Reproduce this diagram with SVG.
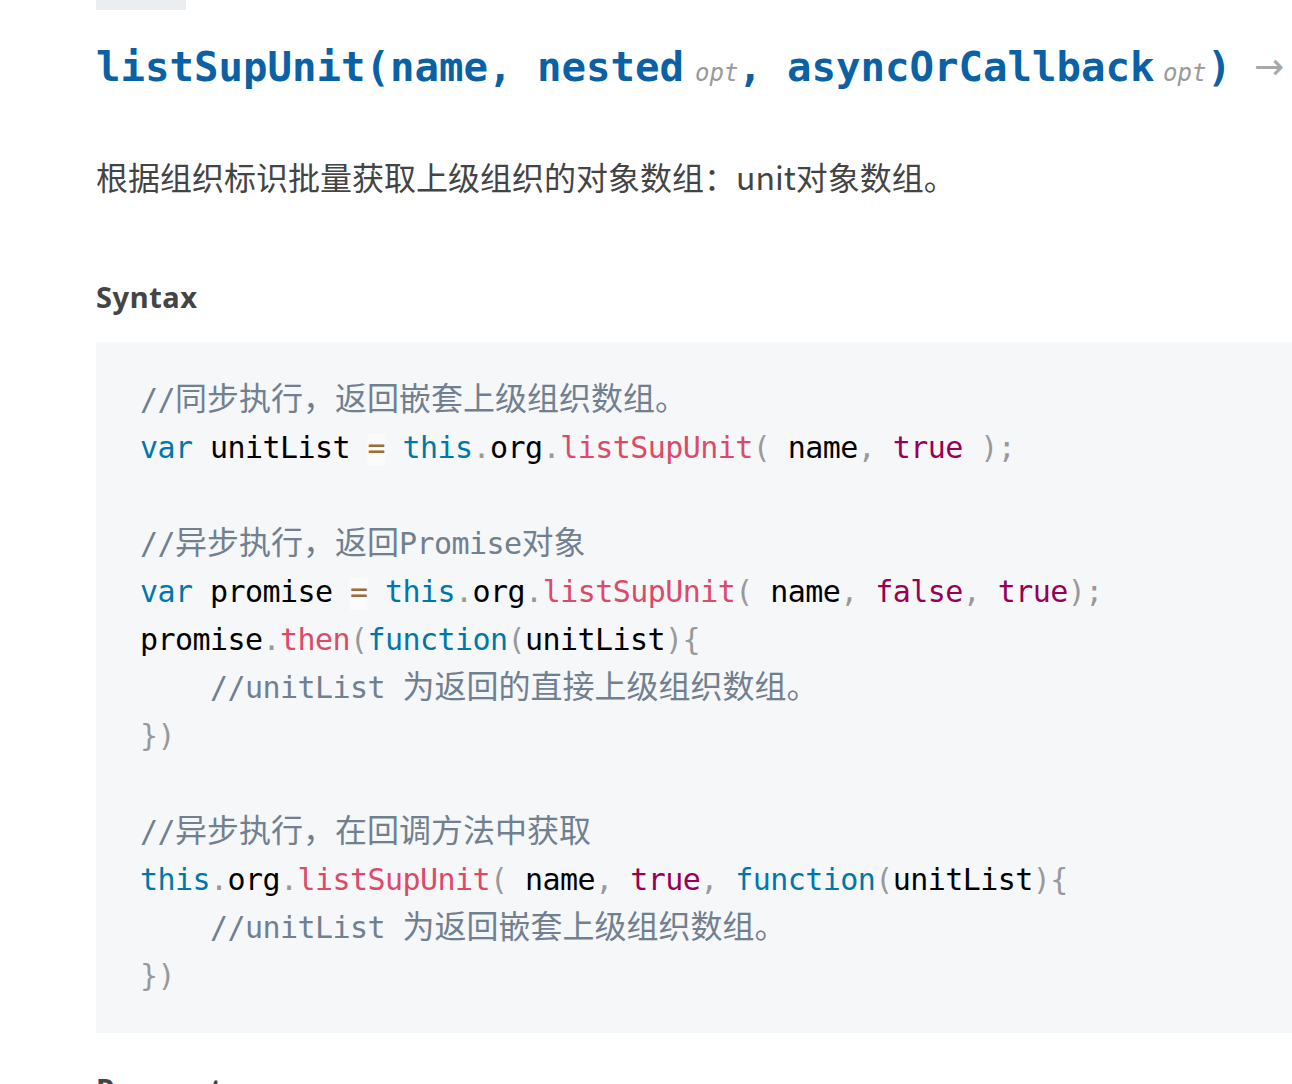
<svg xmlns="http://www.w3.org/2000/svg" width="1292" height="1084" viewBox="0 0 1292 1084">
<style>
text{white-space:pre}
.hd{font-family:"DejaVu Sans Mono","Liberation Mono",monospace;font-weight:bold;font-size:40.7px;fill:#0b61a6}
.opt{font-family:"DejaVu Sans Mono","Liberation Mono",monospace;font-style:italic;font-size:24px;fill:#9a9a9a;font-weight:normal}
.arrow{font-family:"Noto Sans","DejaVu Sans",sans-serif;font-size:36px;fill:#a8a8a8}
.desc{font-family:"Noto Sans CJK SC","Noto Sans",sans-serif;font-size:32px;fill:#444}
.h2{font-family:"Noto Sans","Liberation Sans",sans-serif;font-weight:bold;font-size:29px;letter-spacing:0.6px;fill:#444}
.code{font-family:"DejaVu Sans Mono","Liberation Mono","Noto Sans CJK SC",monospace;font-size:30px;letter-spacing:-0.56px;fill:#000}
.cjk{font-family:"Noto Sans CJK SC",sans-serif;font-size:32px;letter-spacing:0}
.k{fill:#0077aa}
.f{fill:#dd4a68}
.b{fill:#990055}
.p{fill:#999999}
.o{fill:#9a6e3a}
.c{fill:#708090}
</style>
<rect x="96" y="0" width="90" height="10" fill="#ebeef0"/>
<g id="header">
<text class="hd" x="96" y="81">listSupUnit(name, nested</text>
<text class="opt" x="695" y="81">opt</text>
<text class="hd" x="738" y="81">, asyncOrCallback</text>
<text class="opt" x="1163" y="81">opt</text>
<text class="hd" x="1207" y="81">)</text>
<text class="arrow" x="1254" y="79">→</text>
</g>
<g id="description">
<text class="desc" x="96" y="190">根据组织标识批量获取上级组织的对象数组：unit对象数组。</text>
</g>
<g id="syntax-heading">
<text class="h2" x="96" y="308">Syntax</text>
</g>
<g id="code-block">
<rect x="96" y="342" width="1196" height="691" fill="#f6f7f9"/>
<rect x="367.5" y="434" width="17.5" height="32" fill="#ffffff" fill-opacity="0.5"/>
<rect x="350" y="578" width="17.5" height="32" fill="#ffffff" fill-opacity="0.5"/>
<text class="code" x="140" y="410"><tspan class="c">//</tspan><tspan class="c cjk">同步执行，返回嵌套上级组织数组。</tspan></text>
<text class="code" x="140" y="458"><tspan class="k">var</tspan> unitList <tspan class="o">=</tspan> <tspan class="k">this</tspan><tspan class="p">.</tspan>org<tspan class="p">.</tspan><tspan class="f">listSupUnit</tspan><tspan class="p">(</tspan> name<tspan class="p">,</tspan> <tspan class="b">true</tspan> <tspan class="p">);</tspan></text>
<text class="code" x="140" y="554"><tspan class="c">//</tspan><tspan class="c cjk">异步执行，返回</tspan><tspan class="c">Promise</tspan><tspan class="c cjk">对象</tspan></text>
<text class="code" x="140" y="602"><tspan class="k">var</tspan> promise <tspan class="o">=</tspan> <tspan class="k">this</tspan><tspan class="p">.</tspan>org<tspan class="p">.</tspan><tspan class="f">listSupUnit</tspan><tspan class="p">(</tspan> name<tspan class="p">,</tspan> <tspan class="b">false</tspan><tspan class="p">,</tspan> <tspan class="b">true</tspan><tspan class="p">);</tspan></text>
<text class="code" x="140" y="650">promise<tspan class="p">.</tspan><tspan class="f">then</tspan><tspan class="p">(</tspan><tspan class="k">function</tspan><tspan class="p">(</tspan>unitList<tspan class="p">){</tspan></text>
<text class="code" x="210" y="698"><tspan class="c">//unitList </tspan><tspan class="c cjk">为返回的直接上级组织数组。</tspan></text>
<text class="code" x="140" y="746"><tspan class="p">})</tspan></text>
<text class="code" x="140" y="842"><tspan class="c">//</tspan><tspan class="c cjk">异步执行，在回调方法中获取</tspan></text>
<text class="code" x="140" y="890"><tspan class="k">this</tspan><tspan class="p">.</tspan>org<tspan class="p">.</tspan><tspan class="f">listSupUnit</tspan><tspan class="p">(</tspan> name<tspan class="p">,</tspan> <tspan class="b">true</tspan><tspan class="p">,</tspan> <tspan class="k">function</tspan><tspan class="p">(</tspan>unitList<tspan class="p">){</tspan></text>
<text class="code" x="210" y="938"><tspan class="c">//unitList </tspan><tspan class="c cjk">为返回嵌套上级组织数组。</tspan></text>
<text class="code" x="140" y="986"><tspan class="p">})</tspan></text>
</g>
<g id="parameters-heading">
<text class="h2" x="96" y="1100">Parameters</text>
</g>
</svg>
